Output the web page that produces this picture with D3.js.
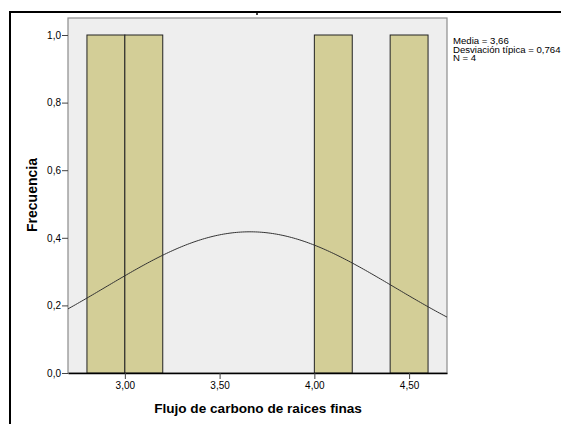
<!DOCTYPE html>
<html lang="es">
<head>
<meta charset="UTF-8">
<script src="https://d3js.org/d3.v7.min.js"></script>
<style>
  body { margin: 0; background: #fff; }
  text { font-family: "Liberation Sans", Arial, sans-serif; fill: #000; }
</style>
</head>
<body>
<div id="chart"></div>
<script>
// histogram bins (lower edge, upper edge, count)
const binStart = [2.8, 3.0, 4.0, 4.4];
const binEnd = [3.0, 3.2, 4.2, 4.6];
const counts = [1, 1, 1, 1];
const xTicks = [3.0, 3.5, 4.0, 4.5];
const yTicks = [0, 0.2, 0.4, 0.6, 0.8, 1.0];
const stats = ["Media = 3,66", "Desviación típica = 0,764", "N = 4"];
const mean = 3.66, sd = 0.764, n = 4, binWidth = 0.2;

const W = 561, H = 424;
const plot = { left: 68, right: 447, top: 18, bottom: 373 };

const svg = d3.select("#chart").append("svg")
  .attr("width", W).attr("height", H);

// outer frame (runs off the right and bottom edges)
svg.append("rect")
  .attr("x", 10).attr("y", 12)
  .attr("width", 600).attr("height", 500)
  .attr("fill", "#fff").attr("stroke", "#000").attr("stroke-width", 2);
svg.append("line").attr("x1", 257).attr("x2", 257).attr("y1", 12).attr("y2", 15)
  .attr("stroke", "#000").attr("stroke-width", 1.5);

const x = d3.scaleLinear().domain([2.7, 4.7]).range([plot.left, plot.right]);
const y = d3.scaleLinear().domain([0, 1.05]).range([plot.bottom, plot.bottom - 338 * 1.05]);

// plot background
svg.append("rect")
  .attr("x", plot.left).attr("y", plot.top)
  .attr("width", plot.right - plot.left).attr("height", plot.bottom - plot.top)
  .attr("fill", "#eeeeee").attr("stroke", "#8c8c8c").attr("stroke-width", 1.2);

// bars
svg.selectAll(".bar").data(counts).join("rect")
  .attr("class", "bar")
  .attr("x", (d, i) => x(binStart[i]))
  .attr("width", (d, i) => x(binEnd[i]) - x(binStart[i]))
  .attr("y", d => y(d))
  .attr("height", d => y(0) - y(d))
  .attr("fill", "#d3ce97")
  .attr("stroke", "#222").attr("stroke-width", 1);

// normal curve
const curve = d3.range(2.7, 4.7001, 0.01).map(v => ({
  v, f: n * binWidth / (sd * Math.sqrt(2 * Math.PI)) * Math.exp(-0.5 * ((v - mean) / sd) ** 2)
}));
svg.append("path").datum(curve)
  .attr("fill", "none").attr("stroke", "#333").attr("stroke-width", 1)
  .attr("d", d3.line().x(d => x(d.v)).y(d => y(d.f)));

// axes
const xAxis = svg.append("g")
  .attr("transform", `translate(0,${plot.bottom})`)
  .call(d3.axisBottom(x).tickValues(xTicks).tickSize(6).tickSizeOuter(0)
    .tickFormat(d => d3.format(".2f")(d).replace(".", ",")));
xAxis.select(".domain").attr("stroke", "#000").attr("stroke-width", 1.5);
xAxis.selectAll(".tick line").attr("stroke", "#444");
xAxis.selectAll("text").attr("font-size", 10).attr("y", 9);

const yAxis = svg.append("g")
  .attr("transform", `translate(${plot.left},0)`)
  .call(d3.axisLeft(y).tickValues(yTicks).tickSize(6).tickSizeOuter(0)
    .tickFormat(d => d3.format(".1f")(d).replace(".", ",")));
yAxis.select(".domain").remove();
yAxis.selectAll(".tick line").attr("stroke", "#444");
yAxis.selectAll("text").attr("font-size", 10).attr("x", -7);

// axis titles
svg.append("text")
  .attr("x", 258).attr("y", 413)
  .attr("text-anchor", "middle")
  .attr("font-size", 13.6).attr("font-weight", "bold")
  .text("Flujo de carbono de raices finas");
svg.append("text")
  .attr("transform", "translate(37,195) rotate(-90)")
  .attr("text-anchor", "middle")
  .attr("font-size", 14).attr("font-weight", "bold")
  .text("Frecuencia");

// stats box
svg.selectAll(".stat").data(stats).join("text")
  .attr("class", "stat")
  .attr("x", 453).attr("y", (d, i) => 44 + i * 8.6)
  .attr("font-size", 9.6)
  .text(d => d);
</script>
</body>
</html>
